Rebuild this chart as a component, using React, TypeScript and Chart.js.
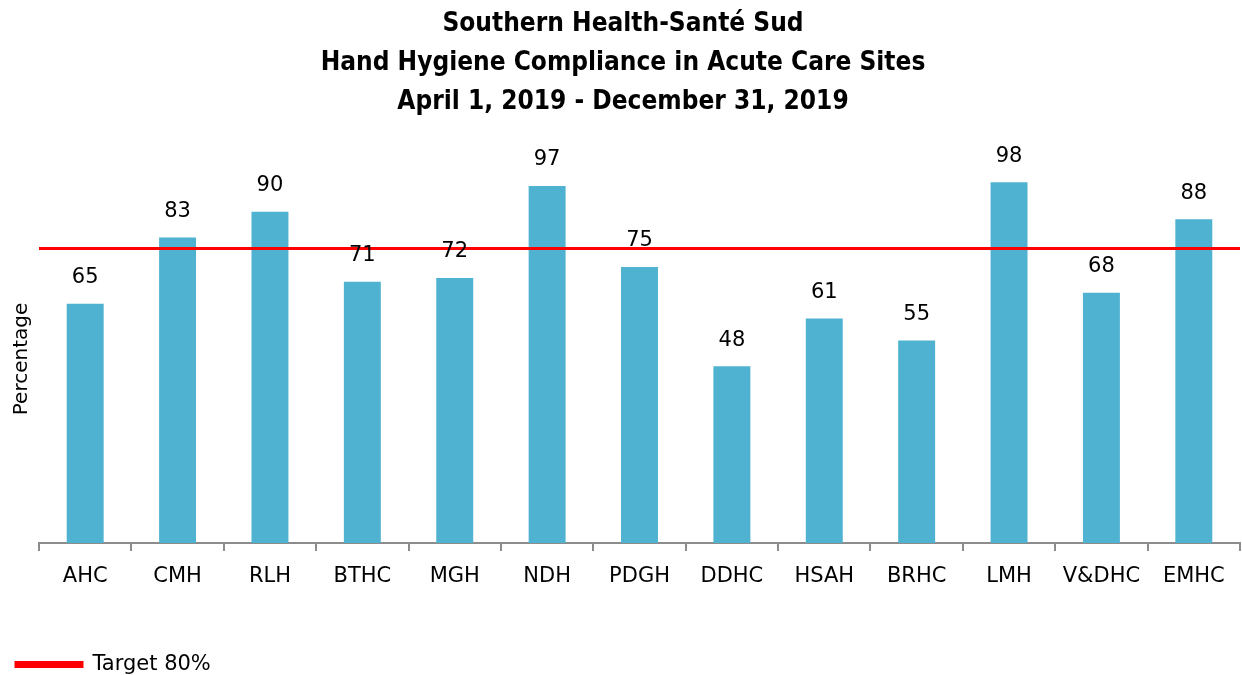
import React, { useEffect, useRef } from "react";
import { Chart, registerables } from "chart.js";

Chart.register(...registerables);

const categories = ["AHC", "CMH", "RLH", "BTHC", "MGH", "NDH", "PDGH", "DDHC", "HSAH", "BRHC", "LMH", "V&DHC", "EMHC"];
const compliance = [65, 83, 90, 71, 72, 97, 75, 48, 61, 55, 98, 68, 88];
const target = 80;
const targetLabel = "Target 80%";
const titleLines = ["Southern Health-Santé Sud", "Hand Hygiene Compliance in Acute Care Sites", "April 1, 2019 - December 31, 2019"];

const BODY_FONT = "'DejaVu Sans', sans-serif";
const TITLE_FONT = "'DejaVu Sans Condensed', 'Liberation Sans Narrow', sans-serif";

const valueLabels = {
  id: "valueLabels",
  afterDatasetsDraw(chart: any) {
    const ctx = chart.ctx;
    const meta = chart.getDatasetMeta(0);
    ctx.save();
    ctx.fillStyle = "#000";
    ctx.font = `21px ${BODY_FONT}`;
    ctx.textAlign = "center";
    ctx.textBaseline = "middle";
    meta.data.forEach((bar: any, i: number) => {
      ctx.fillText(String(compliance[i]), bar.x, bar.y - 26);
    });
    ctx.restore();
  },
};

export default function App() {
  const ref = useRef<HTMLCanvasElement>(null);
  useEffect(() => {
    document.body.style.margin = "0";
    const chart = new Chart(ref.current!, {
      type: "bar",
      data: {
        labels: categories,
        datasets: [
          {
            label: "Compliance",
            data: compliance,
            backgroundColor: "#4FB2D1",
            barPercentage: 0.4,
            categoryPercentage: 1,
            grouped: false,
            order: 2,
          } as any,
          {
            type: "line",
            label: targetLabel,
            data: [
              { x: 0, y: target },
              { x: 1, y: target },
            ],
            xAxisID: "x2",
            borderColor: "#FF0000",
            backgroundColor: "#FF0000",
            borderWidth: 3,
            pointRadius: 0,
            order: 1,
          } as any,
        ],
      },
      options: {
        animation: false,
        responsive: false,
        layout: { padding: { left: 6, right: 2, bottom: -10, top: 0 } },
        scales: {
          x: {
            grid: { display: true, drawOnChartArea: false, tickLength: 8, color: "#8C8C8C", lineWidth: 2, offset: true },
            border: { display: true, color: "#8C8C8C", width: 2 },
            ticks: { color: "#000", font: { family: BODY_FONT, size: 21 }, padding: 13 },
            afterFit: (scale: any) => {
              scale.height = 101;
            },
          },
          x2: {
            type: "linear",
            min: 0,
            max: 1,
            offset: false,
            display: false,
          },
          y: {
            min: 0,
            max: 100,
            ticks: { display: false },
            grid: { display: false },
            border: { display: false },
            title: { display: true, text: "Percentage", color: "#000", font: { family: BODY_FONT, size: 20 }, padding: { top: 4, bottom: 4 } },
            afterFit: (scale: any) => {
              scale.width = 33;
            },
          },
        },
        plugins: {
          title: {
            display: true,
            text: titleLines,
            color: "#000",
            font: { family: TITLE_FONT, size: 26, weight: "bold", lineHeight: 1.5 },
            padding: { top: 5, bottom: 53 },
          },
          legend: {
            display: true,
            position: "bottom",
            align: "start",
            labels: {
              filter: (item: any) => item.text === targetLabel,
              boxWidth: 66,
              boxHeight: 4,
              color: "#000",
              font: { family: BODY_FONT, size: 21 },
              padding: 10,
            },
          },
          tooltip: { enabled: false },
        },
      },
      plugins: [valueLabels],
    });
    return () => chart.destroy();
  }, []);
  return <canvas ref={ref} width={1242} height={675} style={{ display: "block" }} />;
}
